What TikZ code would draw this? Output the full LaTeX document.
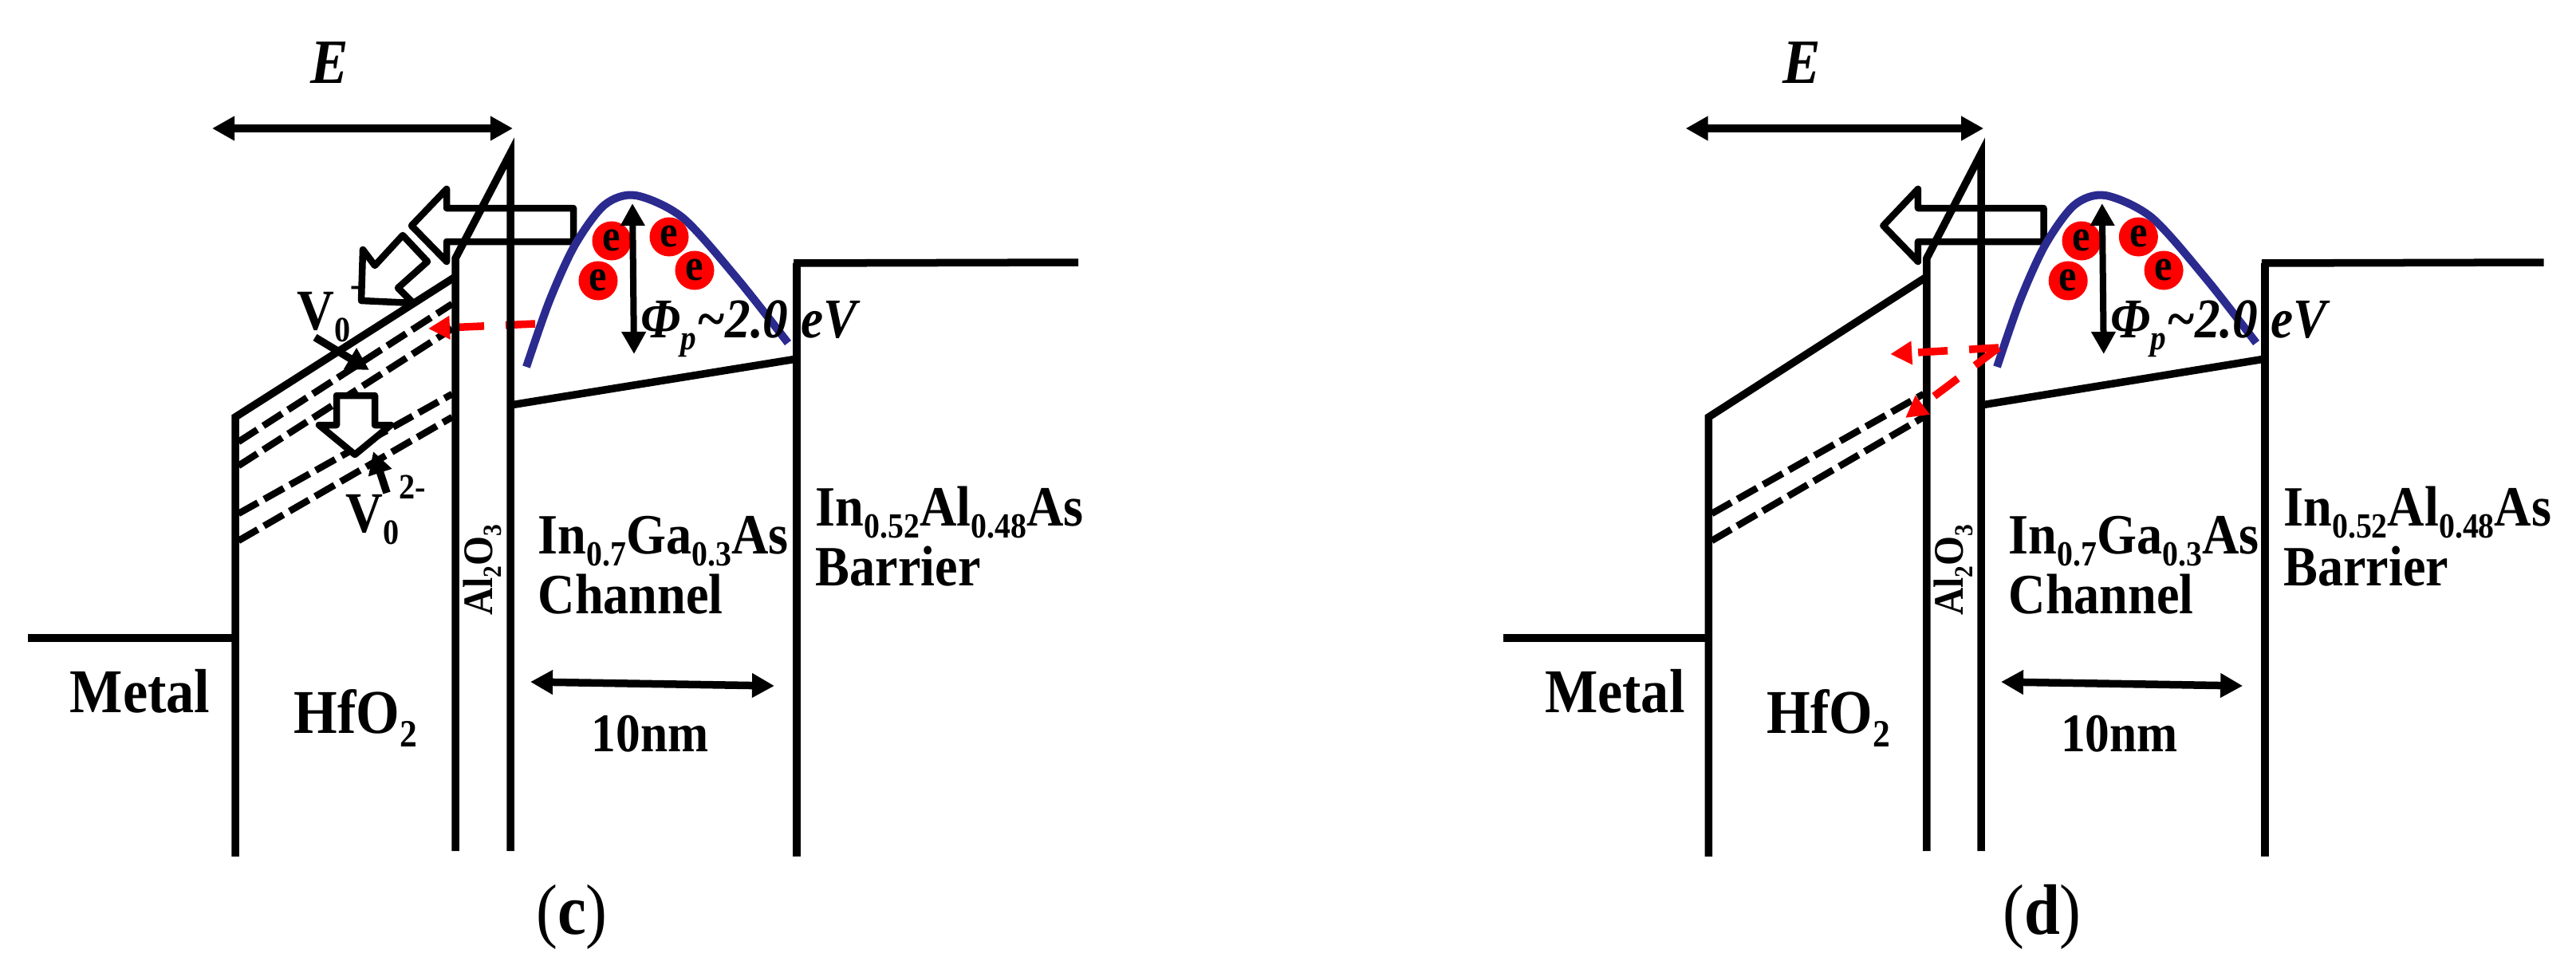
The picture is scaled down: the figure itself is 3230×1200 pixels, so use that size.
\documentclass[tikz,border=0pt]{standalone}
\usepackage{fontspec}
\setmainfont{Liberation Serif}[FakeStretch=0.9]
\usetikzlibrary{arrows.meta}
\newcommand{\sbs}[1]{\raisebox{-.22em}{\scalebox{.62}{#1}}}
\newcommand{\sps}[2]{\raisebox{#1}{\scalebox{.62}{#2}}}
\tikzset{
    panelc/.style={},
    paneld/.style={xshift=18.49cm, x=.0099cm},
    band/.style={line width=.095cm},
    level/.style={line width=.085cm, dash pattern=on .28cm off .09cm},
    hollow/.style={line width=.085cm, line join=round},
    tip/.style={line width=.095cm, {Triangle[length=.28cm,width=.29cm]}-{Triangle[length=.28cm,width=.29cm]}},
    ptr/.style={line width=.095cm, -{Triangle[length=.28cm,width=.29cm]}},
    hot/.style={red, line width=.095cm, dash pattern=on .37cm off .27cm, -{Triangle[length=.27cm,width=.28cm]}},
    electron/.style={circle, fill=red, inner sep=0pt, minimum size=.49cm, font=\fontsize{16}{18}\selectfont\bfseries},
    big/.style={anchor=base west, inner sep=0pt, font=\fontsize{22.2}{24}\selectfont\bfseries},
    mid/.style={anchor=base west, inner sep=0pt, font=\fontsize{20.3}{22}\selectfont\bfseries},
    vac/.style={anchor=base west, inner sep=0pt, font=\fontsize{20.5}{22}\selectfont\bfseries}
}
\definecolor{wave}{HTML}{2B2A8F}

\begin{document}
\begin{tikzpicture}[x=.01cm, y=-.01cm]
    \useasboundingbox (0, 0) rectangle (3230, 1200);
    % levels under both panels
    \foreach \p in {c, d} {
        \begin{scope}[panel\p]
            \draw[level] (299, 644) -- (567, 494);
            \draw[level] (299, 678) -- (567, 523);
        \end{scope}
    }
    % only in (c): upper levels and hollow arrows
    \begin{scope}[panelc]
        \draw[level] (299, 554) -- (567, 381);
        \draw[level] (299, 584) -- (567, 412);
        \draw[hollow] (505, 295) -- (536, 328) -- (499, 361) -- (518, 380) -- (453, 377) -- (455, 313) -- (470, 333) -- cycle;
        \draw[hollow, fill=white] (422, 496) -- (470, 496) -- (470, 533) -- (490, 533) -- (445, 570) -- (400, 533) -- (422, 533) -- cycle;
        \draw[ptr] (395, 423) -- (463, 464);
        \draw[ptr] (485, 618) -- (468, 566);
        \node[vac] (vonec) at (372, 413) {V\sbs{0}\sps{.58em}{-}};
        \node[vac] (vtwoc) at (433, 667) {V\sbs{0}\sps{.58em}{2-}};
        \draw[hot] (671, 406) -- (537, 412);
    \end{scope}
    % same frame in both panels
    \foreach \p/\lab in {c/(\textbf{c}), d/(\textbf{d})} {
        \begin{scope}[panel\p]
            \draw[tip] (266, 161) -- (643, 161);
            \draw[band] (35, 800) -- (295, 800);
            \draw[band] (295, 1074) -- (295, 523) -- (571, 347);
            \draw[band] (571, 1067) -- (571, 324) -- (640, 192) -- (640, 1067);
            \draw[band] (640, 508) -- (999, 450);
            \draw[band] (999, 1074) -- (999, 330);
            \draw[band] (995, 330) -- (1352, 329);
            \draw[hollow] (719, 261) -- (560, 261) -- (560, 237) -- (516, 283) -- (560, 328) -- (560, 303) -- (719, 303) -- cycle;
            \draw[wave, line width=.1cm] plot[smooth] coordinates {(660, 460) (689, 377) (721, 307) (758, 257) (797, 245) (856, 273) (925, 350) (988, 430)};
            \node[electron] (eone\p) at (767, 302) {e};
            \node[electron] (etwo\p) at (839, 297) {e};
            \node[electron] (ethree\p) at (871, 339) {e};
            \node[electron] (efour\p) at (750, 352) {e};
            \draw[tip, line width=.08cm] (793, 255) -- (795, 444);
            \draw[tip] (665, 855) -- (971, 860);
            \node[font=\fontsize{22.5}{24}\selectfont\bfseries\itshape, inner sep=0pt] (field\p) at (413, 79) {E};
            \node[anchor=base west, inner sep=0pt, font=\fontsize{20}{22}\selectfont\bfseries\itshape] (phi\p) at (803, 423) {Φ\sbs{p}\textasciitilde 2.0 eV};
            \node[big] (metal\p) at (87, 893) {Metal};
            \node[big] (hf\p) at (368, 919) {HfO\sbs{2}};
            \node[rotate=90, inner sep=0pt, font=\fontsize{15}{17}\selectfont\bfseries] (al\p) at (605, 715) {Al\sbs{2}O\sbs{3}};
            \node[mid] (chan\p) at (674, 694) {In\sbs{0.7}Ga\sbs{0.3}As};
            \node[mid] (chantxt\p) at (674, 769) {Channel};
            \node[mid] (barr\p) at (1022, 659) {In\sbs{0.52}Al\sbs{0.48}As};
            \node[mid] (barrtxt\p) at (1022, 734) {Barrier};
            \node[anchor=base, inner sep=0pt, font=\fontsize{19.4}{21}\selectfont\bfseries] (width\p) at (815, 942) {10nm};
            \node[anchor=base, inner sep=0pt, font=\fontsize{25.5}{27}\selectfont] (cap\p) at (717, 1171) {\lab};
        \end{scope}
    }
    % only in (d): two red paths
    \begin{scope}[paneld]
        \draw[hot] (662, 436) -- (525, 444);
        \draw[hot] (662, 436) -- (544, 524);
    \end{scope}
\end{tikzpicture}
\end{document}
